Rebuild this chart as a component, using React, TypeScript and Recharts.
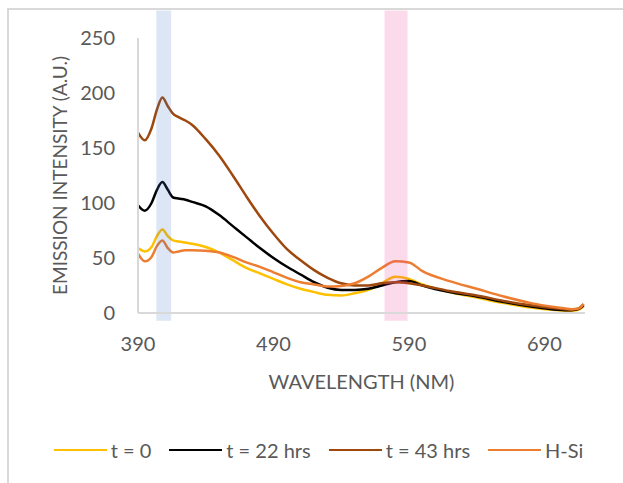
import { LineChart, Line, XAxis, YAxis, ReferenceArea, Legend } from 'recharts'

const wavelengths = [390, 395, 400, 404, 408, 412, 416, 420, 425, 430, 440, 450, 460, 470, 480, 490, 500, 510, 520, 530, 540, 550, 560, 570, 580, 590, 600, 620, 640, 660, 680, 700, 710, 715, 719]
const t0 = [59, 56, 60, 70, 76, 70, 66, 65, 64, 63, 60, 55, 48, 41, 36, 31, 26, 22, 19, 16.5, 16, 18, 21, 27, 33, 31, 26, 19, 14, 9, 5, 2.5, 2, 3, 6]
const t22 = [98, 93, 100, 112, 119, 112, 105, 104, 103, 101, 97, 89, 79, 69, 59, 50, 42, 35, 28, 23, 21, 21, 22, 25, 28, 29, 25, 19, 15, 10, 6, 3, 2.5, 3.5, 7]
const t43 = [164, 157, 168, 185, 196, 188, 181, 178, 175, 171, 158, 143, 125, 106, 88, 72, 58, 48, 39, 32, 27, 25, 25, 27, 28, 27, 25, 20, 16, 11, 7, 4, 3, 4, 8]
const hsi = [54, 47, 51, 61, 66, 59, 55, 56, 57, 57, 56.5, 55, 51, 46, 42, 37, 32, 28, 26, 24, 24.5, 27, 33, 41, 47, 46, 38, 29, 22, 15, 9, 5, 3.5, 4, 8]

const xTicks = [390, 490, 590, 690]
const yTicks = [0, 50, 100, 150, 200, 250]

const series = [
  { key: 't0', name: 't = 0', color: '#FFC000' },
  { key: 't22', name: 't = 22 hrs', color: '#000000' },
  { key: 't43', name: 't = 43 hrs', color: '#9E480E' },
  { key: 'hsi', name: 'H-Si', color: '#ED7D31' },
]

const rows = wavelengths.map((w, i) => ({ w, t0: t0[i], t22: t22[i], t43: t43[i], hsi: hsi[i] }))

const font = 'Lato, "Open Sans", sans-serif'
const ink = '#595959'

function LegendRow() {
  return (
    <div style={{ display: 'flex', justifyContent: 'center', alignItems: 'center', gap: 18, paddingLeft: 14, fontFamily: font, fontSize: 20, color: ink }}>
      {series.map((s) => (
        <div key={s.key} style={{ display: 'flex', alignItems: 'center' }}>
          <span style={{ display: 'inline-block', width: 53, height: 2.5, background: s.color, marginRight: 4 }} />
          <span>{s.name}</span>
        </div>
      ))}
    </div>
  )
}

export default function App() {
  return (
    <div style={{ position: 'fixed', left: 0, top: 0, width: 623, height: 483, overflow: 'hidden', background: '#fff' }}>
      <div
        style={{
          position: 'absolute',
          left: 7,
          top: 8,
          width: 640,
          height: 500,
          borderLeft: '2px solid #d9d9d9',
          borderTop: '2px solid #d9d9d9',
        }}
      />
      <LineChart
        width={623}
        height={483}
        data={rows}
        margin={{ top: 38, right: 38, bottom: 110, left: 0 }}
        style={{ position: 'absolute', left: 0, top: 0, fontFamily: font }}
      >
        <XAxis
          dataKey="w"
          type="number"
          domain={[390, 720]}
          ticks={xTicks}
          height={60}
          tickSize={0}
          tickMargin={24}
          stroke="#d9d9d9"
          strokeWidth={2}
          tick={{ fill: ink, fontSize: 20 }}
          label={{ value: 'WAVELENGTH (NM)', position: 'center', dy: 39, fill: ink, fontSize: 20 }}
        />
        <YAxis
          type="number"
          domain={[0, 250]}
          ticks={yTicks}
          width={138}
          tickSize={0}
          tickMargin={23}
          stroke="#d9d9d9"
          strokeWidth={2}
          tick={{ fill: ink, fontSize: 20 }}
          label={{ value: 'EMISSION INTENSITY (A.U.)', angle: -90, position: 'center', dx: -9, fill: ink, fontSize: 19 }}
        />
        {series.map((s) => (
          <Line
            key={s.key}
            type="monotone"
            dataKey={s.key}
            name={s.name}
            stroke={s.color}
            strokeWidth={2.5}
            dot={false}
            activeDot={false}
            isAnimationActive={false}
          />
        ))}
        <ReferenceArea x1={403.5} x2={414.5} y1={-7} y2={275} ifOverflow="visible" fill="#4472C4" fillOpacity={0.18} stroke="none" zIndex={450} />
        <ReferenceArea x1={572} x2={589} y1={-7} y2={275} ifOverflow="visible" fill="#E8459B" fillOpacity={0.2} stroke="none" zIndex={450} />
        <Legend
          layout="horizontal"
          verticalAlign="middle"
          align="center"
          wrapperStyle={{ top: 438, left: 0, width: 623 }}
          content={() => <LegendRow />}
        />
      </LineChart>
    </div>
  )
}
